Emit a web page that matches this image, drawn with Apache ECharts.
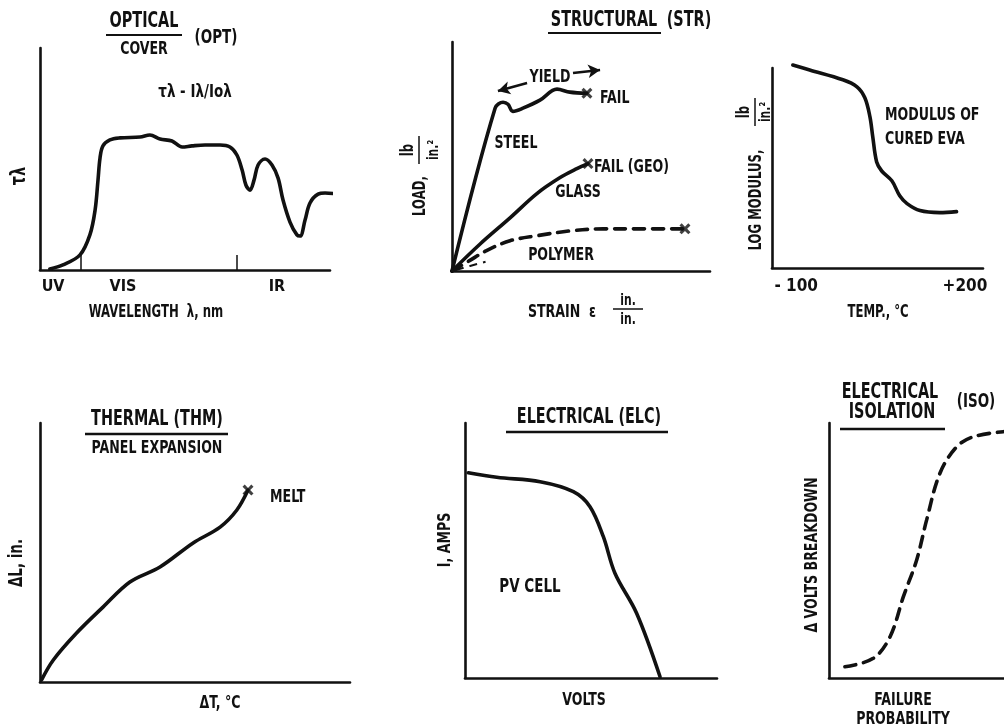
<!DOCTYPE html>
<html><head><meta charset="utf-8">
<script src="https://cdn.jsdelivr.net/npm/echarts@6/dist/echarts.min.js"></script>
<style>html,body{margin:0;padding:0;background:#fff}#c{width:1004px;height:728px}</style>
</head><body><div id="c"></div>
<script>
// ---- data (axis units 0..100 unless noted) ----
const opticalCurve = [[3.4,0.5],[7.9,2.3],[13.8,6.8],[17.2,15.8],[19.0,27.0],[20.0,40.5],[20.7,50.5],[21.7,55.9],[24.1,58.6],[27.6,59.5],[34.5,59.9],[37.9,60.8],[41.4,59.0],[45.5,58.1],[49.0,55.4],[52.4,55.9],[56.9,56.3],[62.1,56.3],[65.5,55.4],[67.9,51.8],[69.7,45.0],[71.0,38.3],[72.4,36.0],[73.8,40.5],[75.2,47.3],[77.6,50.0],[80.0,47.3],[82.1,41.4],[83.8,31.5],[86.2,21.6],[88.6,15.8],[89.7,15.3],[91.4,22.5],[93.1,30.2],[95.9,34.2],[98.3,34.7],[102.8,34.2]];
const opticalTicks = [14.1, 67.9];
const opticalBandPos = [4.5, 28.6, 81.7];
const opticalBands = ['UV', 'VIS', 'IR'];

const steelCurve = [[0,0],[16.7,71.1],[19.8,73.7],[21.7,72.8],[23.6,69.7],[27.5,71.1],[34.1,74.6],[40.7,79.4],[45.7,78.1],[52.3,77.6]];
const glassCurve = [[0,0],[10.9,11.8],[22.5,23.2],[32.9,33.8],[41.9,40.8],[48.4,44.7],[52.7,46.9]];
const polymerCurve = [[0,0],[6.6,4.4],[13.2,8.8],[22.5,13.2],[32.9,15.4],[45.7,17.5],[58.5,18.4],[71.7,18.4],[90.3,18.4]];
const polymerLowerCurve = [[1.5,0.4],[7,2.2],[13,4.0]];

const evaTempC = [-106,-76,-17,8,22,31,36,43,52,70,84,97,120,155,185];
const evaLogModulus = [101.5,99,94.1,90.6,85.1,75.7,65.8,53,48.5,43.6,36.1,32.2,28.7,27.7,28.2];
const evaTickValues = [-100, 200];
const evaTickLabels = ['- 100', '+200'];

const thermalCurve = [[0.5,0.8],[4.3,8.5],[11.8,18.9],[20.4,29.0],[29.0,38.6],[38.7,44.4],[49.4,53.7],[58.1,59.8],[63.5,66.4],[67.1,74.1]];
const pvCellCurve = [[1.3,80.5],[12.6,78.7],[29.8,77.0],[43.0,73.1],[49.6,67.2],[54.9,55.4],[59.5,41.1],[68.1,25.4],[77.4,0.5]];
const isoCurve = [[9.1,4.4],[25.3,7.7],[34.9,16.2],[42.5,31.9],[50.1,46.3],[55.8,62.0],[63.4,80.3],[73.0,90.7],[82.5,94.6],[99.6,96.6]];

// ---- chart ----
const FONT = "'Liberation Sans Narrow','DejaVu Sans Condensed','Liberation Sans',sans-serif";
const BLACK = '#111';
const XMARK = 'path://M0,2L2,0L5,3L8,0L10,2L7,5L10,8L8,10L5,7L2,10L0,8L3,5Z';

const grids = [
  {left:40, top:48, width:290, height:222},
  {left:452, top:42, width:258, height:229},
  {left:772, top:68, width:211, height:200},
  {left:40, top:423, width:310, height:259},
  {left:465, top:423, width:252, height:255},
  {left:829, top:423, width:175, height:255}
];
const axisLine = {show:true, onZero:false, lineStyle:{color:BLACK, width:2.6}};
function baseAxis(i, extra){
  return Object.assign({type:'value', gridIndex:i, min:0, max:100, axisLine:axisLine,
    axisTick:{show:false}, axisLabel:{show:false}, splitLine:{show:false}}, extra||{});
}
const xAxes = grids.map((g,i)=>baseAxis(i));
const yAxes = grids.map((g,i)=>baseAxis(i));
xAxes[0] = baseAxis(0, {
  axisTick:{show:true, inside:true, length:15, customValues:opticalTicks, lineStyle:{color:BLACK, width:1.5}},
  axisLabel:{show:true, customValues:opticalBandPos, margin:9, color:BLACK, fontFamily:FONT, fontWeight:'bold', fontSize:16,
    formatter:(v)=>opticalBands[opticalBandPos.indexOf(v)] || ''}
});
xAxes[2] = baseAxis(2, {min:-143, max:232,
  axisLabel:{show:true, customValues:evaTickValues, margin:10, color:BLACK, fontFamily:FONT, fontWeight:'bold', fontSize:17,
    formatter:(v)=>evaTickLabels[evaTickValues.indexOf(v)] || ''}
});

function curve(i, data, dashed){
  return {type:'line', xAxisIndex:i, yAxisIndex:i, data:data, smooth:0.35, symbol:'none', clip:false,
    lineStyle:{color:BLACK, width:3.6, type: dashed ? [11,8] : 'solid', cap:'round'}, silent:true};
}
function xmarks(i, pts){
  return {type:'scatter', xAxisIndex:i, yAxisIndex:i, data:pts, symbol:XMARK, symbolSize:11, clip:false,
    itemStyle:{color:BLACK}, silent:true};
}
const evaCurve = evaTempC.map((t,k)=>[t, evaLogModulus[k]]);
const last = a => a[a.length-1];

const series = [
  curve(0, opticalCurve),
  Object.assign(curve(1, steelCurve), {markLine:{silent:true, symbolSize:[10,12],
    lineStyle:{color:BLACK, width:2.5, type:'solid'}, label:{show:false},
    data:[[{coord:[17.8,78.6], symbol:'arrow'},{coord:[29.1,82.1], symbol:'none'}],
          [{coord:[46.9,86.5], symbol:'none'},{coord:[57.4,87.8], symbol:'arrow'}]]}}),
  curve(1, glassCurve),
  curve(1, polymerCurve, true),
  Object.assign(curve(1, polymerLowerCurve, true), {lineStyle:{color:BLACK, width:2, type:[8,6]}}),
  xmarks(1, [last(steelCurve), last(glassCurve), last(polymerCurve)]),
  curve(2, evaCurve),
  curve(3, thermalCurve),
  xmarks(3, [last(thermalCurve)]),
  curve(4, pvCellCurve),
  curve(5, isoCurve, true)
];

const SY = 1.3;
function T(text, x, y, size, extra){
  extra = extra || {};
  const el = {type:'text', x:x, y:y, silent:true, scaleY: extra.sy || SY,
    style:Object.assign({text:text, fill:BLACK, font:'bold '+(size||14)+'px '+FONT,
      textAlign:'center', textVerticalAlign:'middle'}, extra.style||{})};
  if (extra.rotation !== undefined) el.rotation = extra.rotation;
  return el;
}
function L(x1,y1,x2,y2,w){
  return {type:'line', silent:true, shape:{x1:x1,y1:y1,x2:x2,y2:y2}, style:{stroke:BLACK, lineWidth:w||2}};
}
const R = Math.PI/2;
const graphic = [
  // Optical
  T('OPTICAL',144,22,16), L(106,35,182,35,2), T('COVER',144,49,14), T('(OPT)',216,38,15),
  T('τλ - Iλ/Ioλ',195,93,15,{sy:1.15}), T('τλ',20,176,16,{rotation:R}),
  T('WAVELENGTH  λ, nm',156,313,13),
  // Structural
  T('STRUCTURAL',604,21,16), L(548,33,661,33,2), T('(STR)',689,21,16),
  T('YIELD',550,77,14), T('FAIL',600,98,14,{style:{textAlign:'left'}}),
  T('STEEL',516,143,14), T('FAIL (GEO)',594,167,14,{style:{textAlign:'left'}}),
  T('GLASS',578,192,14), T('POLYMER',561,255,14),
  T('LOAD,',421,196,13,{rotation:R}), T('lb',409,150,13,{rotation:R}), L(419,136,419,164,1.5), T('in.²',434,150,12,{rotation:R}),
  T('STRAIN  ε',562,312,14), T('in.',628,301,12), L(613,309,643,309,1.5), T('in.',628,320,12),
  // EVA
  T('MODULUS OF',885,115,14,{style:{textAlign:'left'}}), T('CURED EVA',885,139,14,{style:{textAlign:'left'}}),
  T('LOG MODULUS,',757,200,13,{rotation:R}), T('lb',745,112,13,{rotation:R}), L(755,98,755,126,1.5), T('in.²',766,112,12,{rotation:R}),
  T('TEMP., °C',878,313,13),
  // Thermal
  T('THERMAL (THM)',157,420,16), L(85,434,228,434,2.5), T('PANEL EXPANSION',157,448,14),
  T('MELT',270,497,14,{style:{textAlign:'left'}}),
  T('ΔL, in.',17,563,15,{rotation:R}), T('ΔT, °C',220,703,14),
  // Electrical
  T('ELECTRICAL (ELC)',589,418,16), L(506,432,668,432,2.5),
  T('PV CELL',530,587,15), T('I, AMPS',445,540,14,{rotation:R}), T('VOLTS',584,700,14),
  // ISO
  T('ELECTRICAL',890,393,16), T('ISOLATION',892,413,16), L(840,429,945,429,2.5), T('(ISO)',976,402,15),
  T('Δ VOLTS BREAKDOWN',812,555,14,{rotation:R}),
  T('FAILURE',903,700,14), T('PROBABILITY',903,719,14)
];

const chart = echarts.init(document.getElementById('c'), null, {renderer:'canvas'});
chart.setOption({animation:false, backgroundColor:'#fff', grid:grids, xAxis:xAxes, yAxis:yAxes, series:series, graphic:graphic});
</script></body></html>
